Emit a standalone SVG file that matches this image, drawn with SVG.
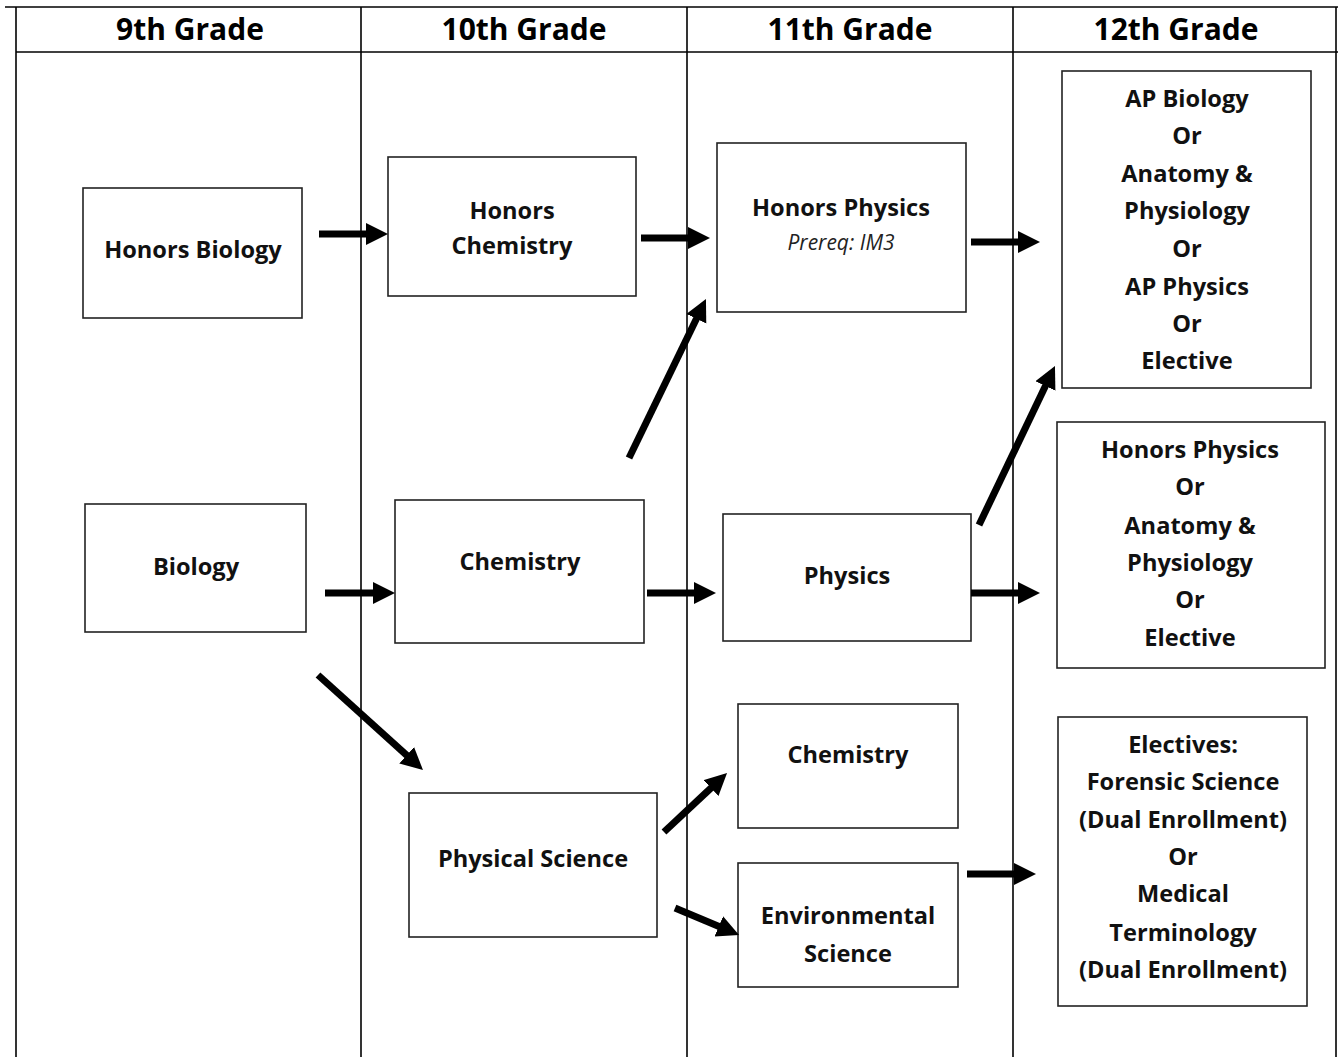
<svg xmlns="http://www.w3.org/2000/svg" width="1338" height="1057" viewBox="0 0 1338 1057">
<style>
.grid{stroke:#000;stroke-width:1.6;fill:none}
.box{fill:#fff;stroke:#222;stroke-width:1.6}
.hd{font-family:"Open Sans","Liberation Sans",sans-serif;font-weight:bold;font-size:30px;fill:#000;text-anchor:middle}
.t{font-family:"Open Sans","Liberation Sans",sans-serif;font-weight:bold;font-size:23.6px;fill:#111;text-anchor:middle}
.it{font-family:"Open Sans","Liberation Sans",sans-serif;font-style:italic;font-size:21px;fill:#222;text-anchor:middle}
.arr{stroke:#000;stroke-width:7;fill:none;marker-end:url(#ah)}
</style>
<defs>
<marker id="ah" markerUnits="userSpaceOnUse" markerWidth="24" markerHeight="24" refX="1" refY="11" orient="auto">
<path d="M0,0 L22,11 L0,22 z" fill="#000"/>
</marker>
</defs>
<rect width="1338" height="1057" fill="#fff"/>
<g id="table">
<line class="grid" x1="5" y1="7" x2="1338" y2="7"/>
<line class="grid" x1="16" y1="52" x2="1338" y2="52"/>
<line class="grid" x1="16" y1="7" x2="16" y2="1057"/>
<line class="grid" x1="361" y1="7" x2="361" y2="1057"/>
<line class="grid" x1="687" y1="7" x2="687" y2="1057"/>
<line class="grid" x1="1013" y1="7" x2="1013" y2="1057"/>
<line class="grid" x1="1336" y1="7" x2="1336" y2="1057"/>
<text class="hd" x="190" y="40">9th Grade</text>
<text class="hd" x="524" y="40">10th Grade</text>
<text class="hd" x="850" y="40">11th Grade</text>
<text class="hd" x="1176" y="40">12th Grade</text>
</g>
<g id="honors-biology"><rect class="box" x="83" y="188" width="219" height="130"/><text class="t" x="193" y="258">Honors Biology</text></g>
<g id="honors-chemistry"><rect class="box" x="388" y="157" width="248" height="139"/><text class="t" x="512" y="219">Honors</text><text class="t" x="512" y="254">Chemistry</text></g>
<g id="honors-physics"><rect class="box" x="717" y="143" width="249" height="169"/><text class="t" x="841" y="216">Honors Physics</text><text class="it" x="841" y="250">Prereq: IM3</text></g>
<g id="ap-options"><rect class="box" x="1062" y="71" width="249" height="317"/>
<text class="t" x="1187" y="107">AP Biology</text><text class="t" x="1187" y="144">Or</text><text class="t" x="1187" y="182">Anatomy &amp;</text><text class="t" x="1187" y="219">Physiology</text><text class="t" x="1187" y="257">Or</text><text class="t" x="1187" y="295">AP Physics</text><text class="t" x="1187" y="332">Or</text><text class="t" x="1187" y="369">Elective</text></g>
<g id="biology"><rect class="box" x="85" y="504" width="221" height="128"/><text class="t" x="196" y="575">Biology</text></g>
<g id="chemistry"><rect class="box" x="395" y="500" width="249" height="143"/><text class="t" x="520" y="570">Chemistry</text></g>
<g id="physics"><rect class="box" x="723" y="514" width="248" height="127"/><text class="t" x="847" y="584">Physics</text></g>
<g id="physics-options"><rect class="box" x="1057" y="422" width="268" height="246"/>
<text class="t" x="1190" y="458">Honors Physics</text><text class="t" x="1190" y="495">Or</text><text class="t" x="1190" y="534">Anatomy &amp;</text><text class="t" x="1190" y="571">Physiology</text><text class="t" x="1190" y="608">Or</text><text class="t" x="1190" y="646">Elective</text></g>
<g id="physical-science"><rect class="box" x="409" y="793" width="248" height="144"/><text class="t" x="533" y="867">Physical Science</text></g>
<g id="chemistry-11"><rect class="box" x="738" y="704" width="220" height="124"/><text class="t" x="848" y="763">Chemistry</text></g>
<g id="environmental-science"><rect class="box" x="738" y="863" width="220" height="124"/><text class="t" x="848" y="924">Environmental</text><text class="t" x="848" y="962">Science</text></g>
<g id="electives"><rect class="box" x="1058" y="717" width="249" height="289"/>
<text class="t" x="1183" y="753">Electives:</text><text class="t" x="1183" y="790">Forensic Science</text><text class="t" x="1183" y="828">(Dual Enrollment)</text><text class="t" x="1183" y="865">Or</text><text class="t" x="1183" y="902">Medical</text><text class="t" x="1183" y="941">Terminology</text><text class="t" x="1183" y="978">(Dual Enrollment)</text></g>
<g id="connectors">
<line class="arr" x1="319" y1="234" x2="367" y2="234"/>
<line class="arr" x1="641" y1="238" x2="689" y2="238"/>
<line class="arr" x1="971" y1="242" x2="1019" y2="242"/>
<line class="arr" x1="629" y1="458" x2="696.8" y2="317.9"/>
<line class="arr" x1="325" y1="593" x2="374" y2="593"/>
<line class="arr" x1="647" y1="593" x2="695" y2="593"/>
<line class="arr" x1="971" y1="593" x2="1019" y2="593"/>
<line class="arr" x1="979" y1="525" x2="1045.9" y2="385"/>
<line class="arr" x1="318" y1="675" x2="407.4" y2="755.9"/>
<line class="arr" x1="664" y1="832" x2="711.7" y2="787.4"/>
<line class="arr" x1="675" y1="908" x2="719.7" y2="926.8"/>
<line class="arr" x1="967" y1="874" x2="1015" y2="874"/>
</g>
</svg>
